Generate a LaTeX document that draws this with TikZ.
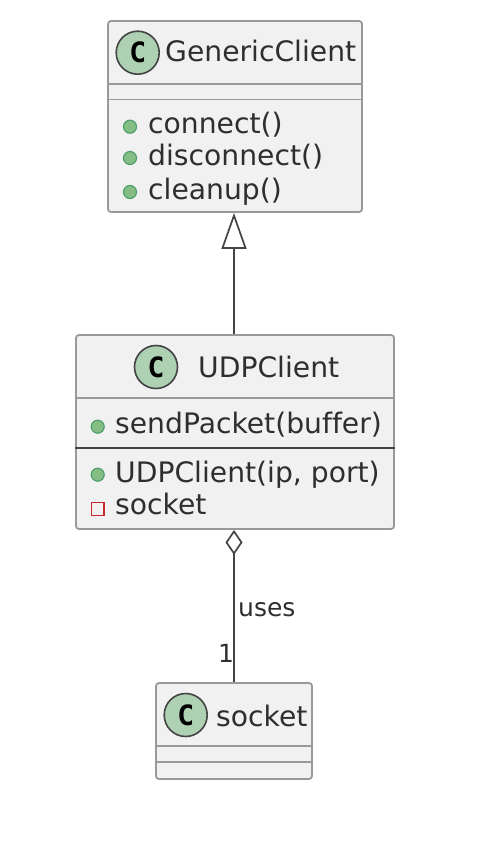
\documentclass[tikz,border=0pt]{standalone}
\usepackage{fontspec}
\setmainfont{DejaVu Sans}[Ligatures=NoCommon]
\newfontfamily\spotfont{DejaVu Sans Mono}
\usetikzlibrary{arrows.meta,positioning,calc}
\definecolor{boxfill}{HTML}{F1F1F1}
\definecolor{boxline}{HTML}{999999}
\definecolor{inkline}{HTML}{444444}
\definecolor{spotfill}{HTML}{ADD1B2}
\definecolor{pubfill}{HTML}{84BE84}
\definecolor{publine}{HTML}{4FA06E}
\definecolor{privline}{HTML}{C82930}
\tikzset{
classbox/.style = {draw=boxline, fill=boxfill, line width=1.8pt, rectangle, rounded corners=3pt, inner sep=0pt},
divider/.style = {draw=boxline, line width=1.8pt},
spot/.style = {draw=inkline, fill=spotfill, circle, line width=1.6pt, minimum size=43pt, inner sep=0pt, font=\spotfont\bfseries\fontsize{28}{28}\selectfont},
pubdot/.style = {draw=publine, fill=pubfill, circle, line width=1.2pt, minimum size=13pt, inner sep=0pt},
privdot/.style = {draw=privline, fill=boxfill, rectangle, line width=1.3pt, minimum size=12.5pt, inner sep=0pt},
label/.style = {anchor=base west, inner sep=0pt, text=black!82, font=\fontsize{28.2}{28.2}\selectfont},
tag/.style = {anchor=base west, inner sep=0pt, text=black!82, font=\fontsize{25}{25}\selectfont},
link/.style = {draw=inkline, line width=1.7pt}
}
\begin{document}
\begin{tikzpicture}[x=1pt,y=-1pt]
	\useasboundingbox (0,0) rectangle (476,850);
	% class boxes
	\node[classbox, minimum width=254pt, minimum height=191pt] (generic) at (235,116.5) {};
	\node[classbox, minimum width=318pt, minimum height=194pt] (udp) at (235,432) {};
	\node[classbox, minimum width=156pt, minimum height=96pt] (sock) at (234,731) {};
	% dividers
	\draw[divider] ([yshift=-64pt]generic.north west) -- ([yshift=-64pt]generic.north east);
	\draw[divider] ([yshift=-79.5pt]generic.north west) -- ([yshift=-79.5pt]generic.north east);
	\draw[divider] ([yshift=-64pt]udp.north west) -- ([yshift=-64pt]udp.north east);
	\draw[divider,draw=inkline] ([yshift=-114pt]udp.north west) -- ([yshift=-114pt]udp.north east);
	\draw[divider] ([yshift=-64pt]sock.north west) -- ([yshift=-64pt]sock.north east);
	\draw[divider] ([yshift=-80pt]sock.north west) -- ([yshift=-80pt]sock.north east);
	% headers
	\node[spot] (spotgeneric) at (137.7,52.7) {C};
	\node[label] (titlegeneric) at (165,62) {GenericClient};
	\node[spot] (spotudp) at (156,367) {C};
	\node[label] (titleudp) at (198,377) {UDPClient};
	\node[spot] (spotsock) at (185.7,715) {C};
	\node[label] (titlesock) at (216,726) {socket};
	% members
	\node[pubdot] (dotconnect) at (130,126.7) {};
	\node[label] (connect) at (148,134) {connect()};
	\node[pubdot] (dotdisconnect) at (130,158) {};
	\node[label] (disconnect) at (148,166) {disconnect()};
	\node[pubdot] (dotcleanup) at (130,192) {};
	\node[label] (cleanup) at (148,200) {cleanup()};
	\node[pubdot] (dotsend) at (97.7,426.7) {};
	\node[label] (send) at (115,433) {sendPacket(buffer)};
	\node[pubdot] (dotctor) at (97.7,474.7) {};
	\node[label] (ctor) at (115,482) {UDPClient(ip, port)};
	\node[privdot] (dotfield) at (97.7,509) {};
	\node[label] (field) at (115,514) {socket};
	% relations
	\draw[link,-{Triangle[open,length=36pt,width=25pt,fill=white]}] ([xshift=-1pt]udp.north) -- ([xshift=-1pt]generic.south);
	\draw[link,{Diamond[open,length=25pt,width=17pt,fill=white]}-] ([xshift=-1pt]udp.south) -- (sock.north);
	\node[tag] (uses) at (238,616) {uses};
	\node[tag] (one) at (218,662) {1};
\end{tikzpicture}
\end{document}
